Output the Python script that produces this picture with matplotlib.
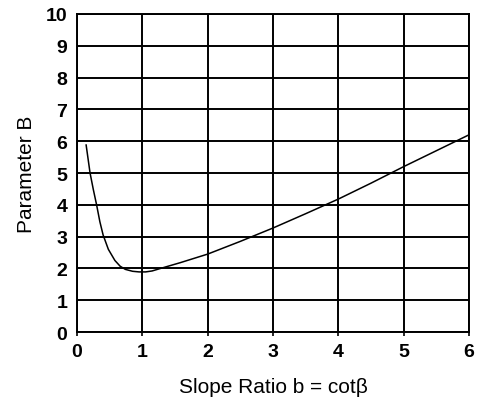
import numpy as np
import matplotlib
matplotlib.use('Agg')
import matplotlib.pyplot as plt

plt.rcParams['font.family'] = ['Liberation Sans', 'DejaVu Sans']

# slope ratio b = cot(beta) and parameter B
slope_ratio = [0.14, 0.20, 0.25, 0.30, 0.35, 0.40, 0.48, 0.58, 0.66, 0.74,
               0.85, 0.95, 1.05, 1.15, 1.28, 1.58, 2.0, 2.5, 3.0, 3.5,
               4.0, 4.5, 5.0, 5.5, 6.0]
param_B = [5.88, 5.0, 4.48, 4.0, 3.47, 3.05, 2.6, 2.25, 2.07, 1.97,
           1.91, 1.89, 1.89, 1.92, 2.0, 2.18, 2.45, 2.85, 3.27, 3.72,
           4.18, 4.68, 5.2, 5.7, 6.2]

xticks = [0, 1, 2, 3, 4, 5, 6]
yticks = [0, 1, 2, 3, 4, 5, 6, 7, 8, 9, 10]

fig = plt.figure(figsize=(4.8, 4.02), dpi=100)
ax = fig.add_axes([0.1604, 0.1716, 0.8166, 0.7911])

ax.plot(slope_ratio, param_B, color='black', linewidth=1.1)

ax.set_xlim(0, 6)
ax.set_ylim(0, 10)
ax.set_xticks(xticks)
ax.set_yticks(yticks)
ax.set_xticklabels([str(t) for t in xticks], fontsize=14, fontweight='bold')
ax.set_yticklabels([str(t) for t in yticks], fontsize=14, fontweight='bold')
ax.tick_params(axis='x', direction='out', length=3, width=1.2, pad=5)
ax.tick_params(axis='y', length=0, pad=7)
ax.grid(True, color='black', linewidth=1.4)
ax.set_axisbelow(True)
for s in ax.spines.values():
    s.set_linewidth(1.4)
    s.set_color('black')

ax.set_xlabel('Slope Ratio b = cotβ', fontsize=15, labelpad=12)
ax.set_ylabel('Parameter B', fontsize=15, labelpad=7)

fig.savefig('out.png', dpi=100)
